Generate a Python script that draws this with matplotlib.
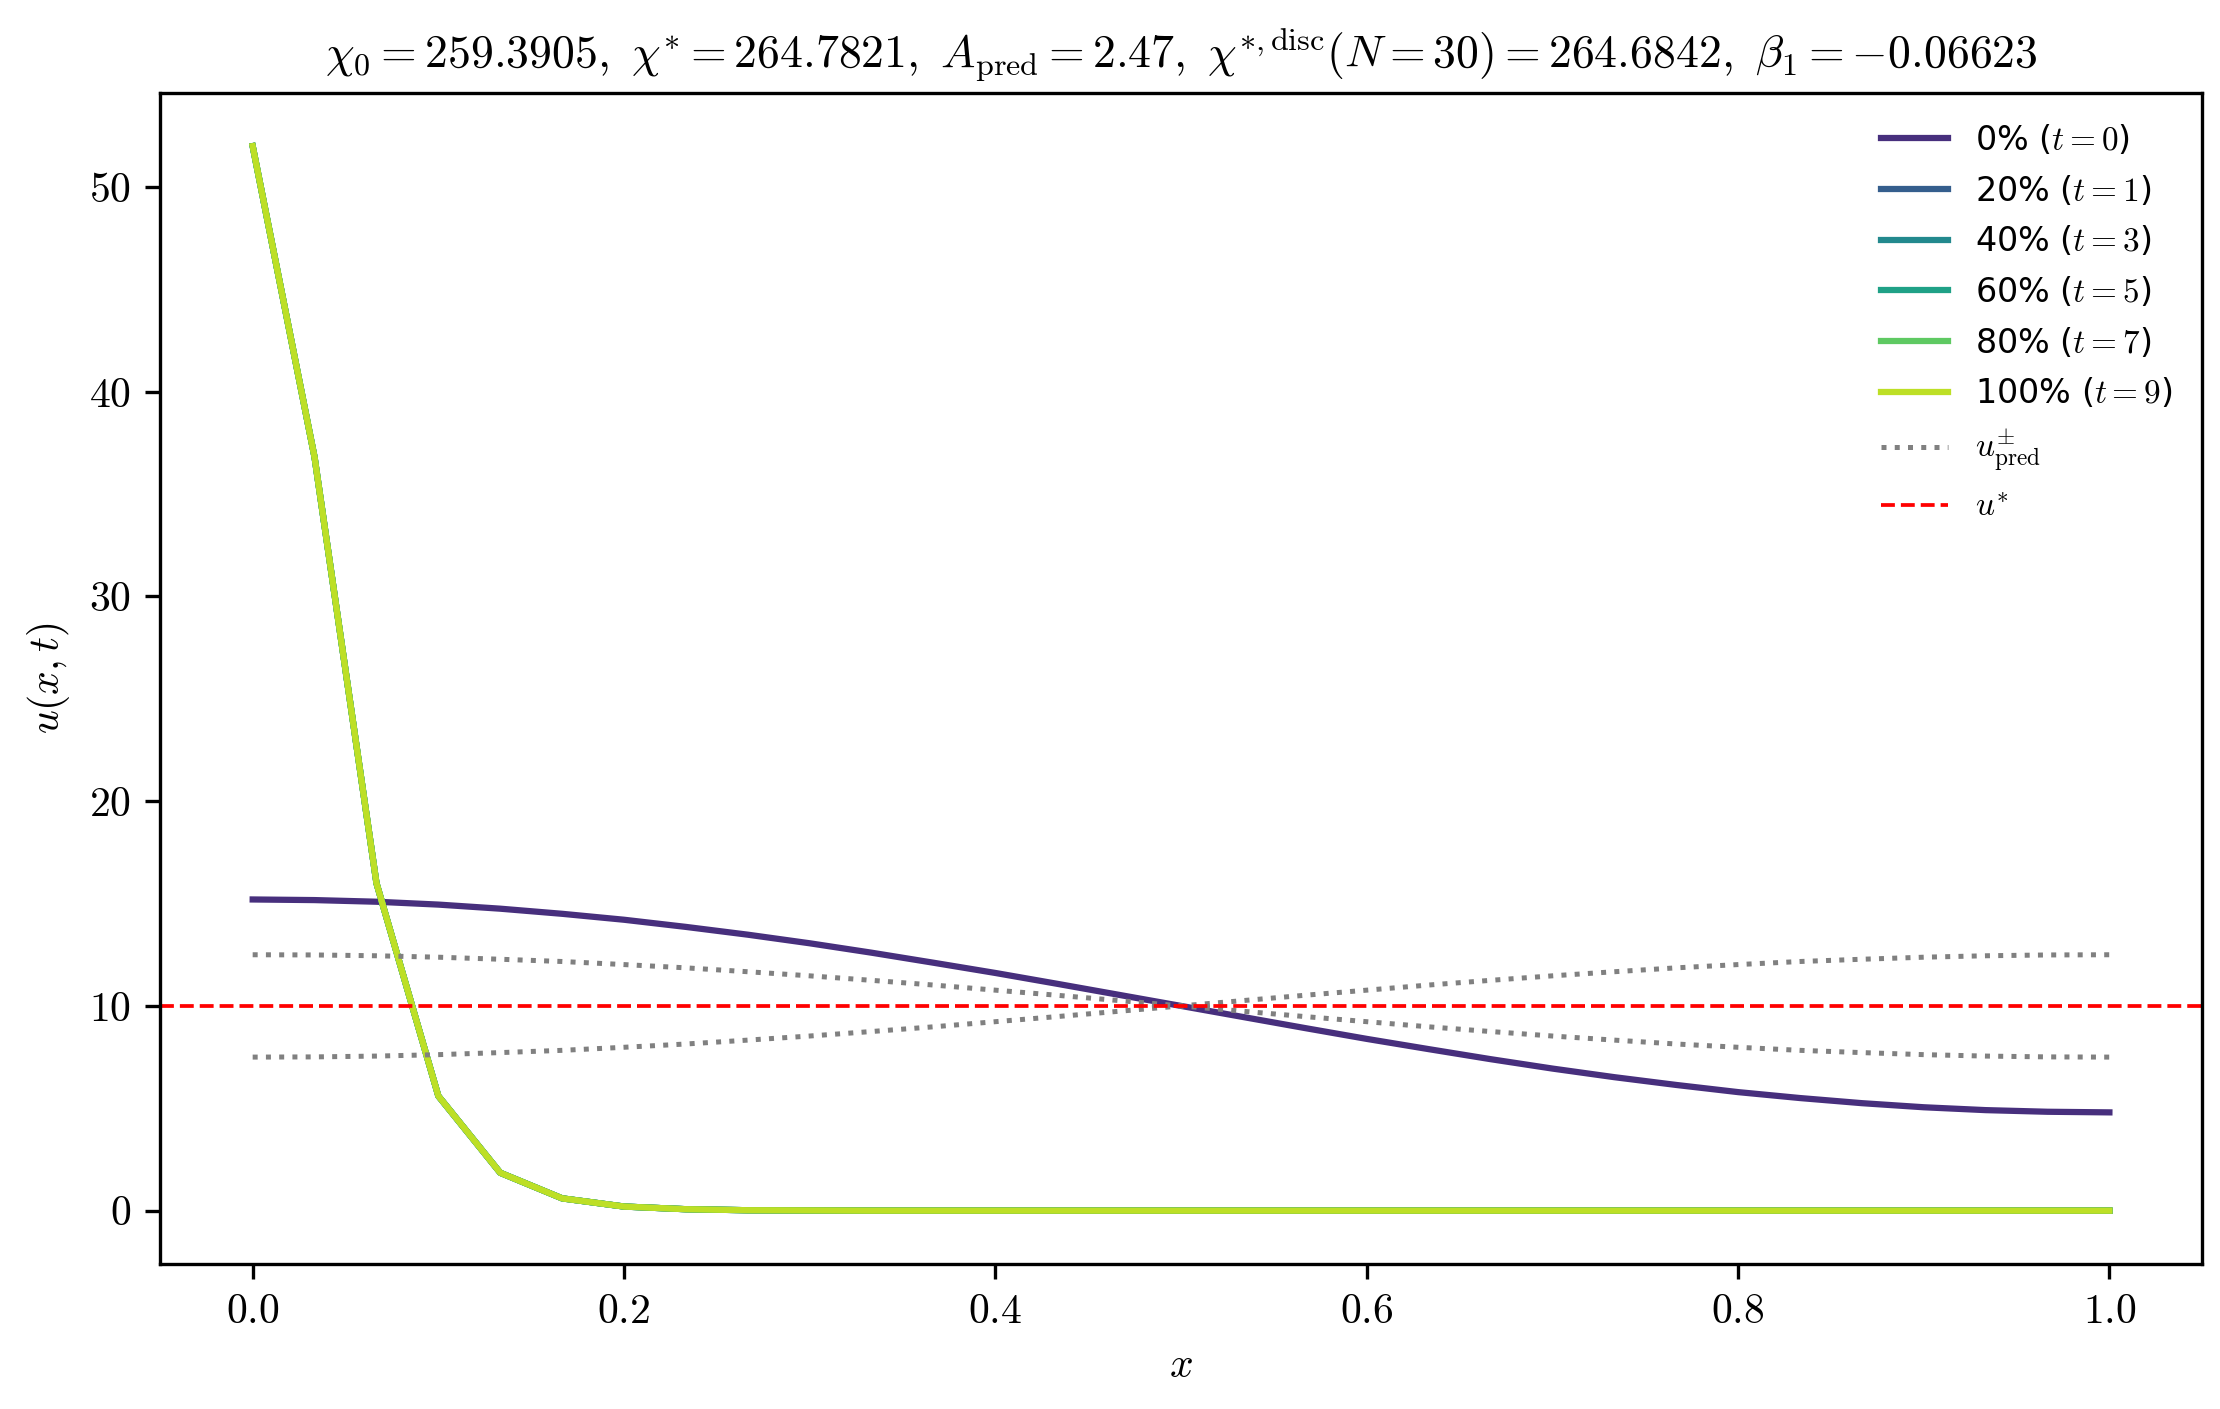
import numpy as np
import matplotlib
matplotlib.use("Agg")
import matplotlib.pyplot as plt

plt.rcParams['font.family'] = ['cmr10', 'DejaVu Sans']
plt.rcParams['mathtext.fontset'] = 'cm'
plt.rcParams['axes.formatter.use_mathtext'] = True

# grid N=30
x = np.linspace(0, 1, 31)

u_t0 = [15.2, 15.17, 15.09, 14.95, 14.75, 14.50, 14.21, 13.86, 13.48, 13.06, 12.6,
        12.11, 11.61, 11.08, 10.54, 10.0, 9.46, 8.92, 8.39, 7.89, 7.4, 6.94, 6.52,
        6.14, 5.79, 5.5, 5.25, 5.05, 4.91, 4.83, 4.8]
u_steady = [52.0, 36.8, 16.0, 5.6, 1.85, 0.6, 0.2, 0.07, 0.02, 0.01] + [0.0] * 21
u_plus = [12.5, 12.49, 12.45, 12.38, 12.28, 12.17, 12.02, 11.86, 11.67, 11.47, 11.25,
          11.02, 10.77, 10.52, 10.26, 10.0, 9.74, 9.48, 9.23, 8.98, 8.75, 8.53, 8.33,
          8.14, 7.98, 7.83, 7.72, 7.62, 7.55, 7.51, 7.5]
u_minus = u_plus[::-1]
u_star = 10.0

pcts = [0, 20, 40, 60, 80, 100]
times = [0, 1, 3, 5, 7, 9]
colors = ['#472f7d', '#355e8d', '#23898e', '#1fa187', '#5ec962', '#bddf26']

fig, ax = plt.subplots(figsize=(7.4, 4.697), dpi=300)
for p, t, c in zip(pcts, times, colors):
    y = u_t0 if t == 0 else u_steady
    ax.plot(x, y, color=c, lw=1.5, label=r'%d%% ($t=%d$)' % (p, t))
ax.plot(x, u_plus, ':', color='gray', lw=1.2, label=r'$u^{\pm}_{\mathrm{pred}}$')
ax.plot(x, u_minus, ':', color='gray', lw=1.2)
ax.axhline(u_star, color='red', ls='--', lw=0.9, label=r'$u^{*}$')

ax.set_xlabel(r'$x$')
ax.set_ylabel(r'$u(x,t)$')
ax.set_title(r'$\chi_0=259.3905,\ \chi^{*}=264.7821,\ A_{\mathrm{pred}}=2.47,\ '
             r'\chi^{*,\mathrm{disc}}(N=30)=264.6842,\ \beta_1=-0.06623$', fontsize=11)
leg = ax.legend(frameon=False, prop={'family': 'DejaVu Sans', 'size': 8})
fig.subplots_adjust(left=0.072, right=0.992, top=0.934, bottom=0.103)
fig.savefig('out.png', dpi=300)
